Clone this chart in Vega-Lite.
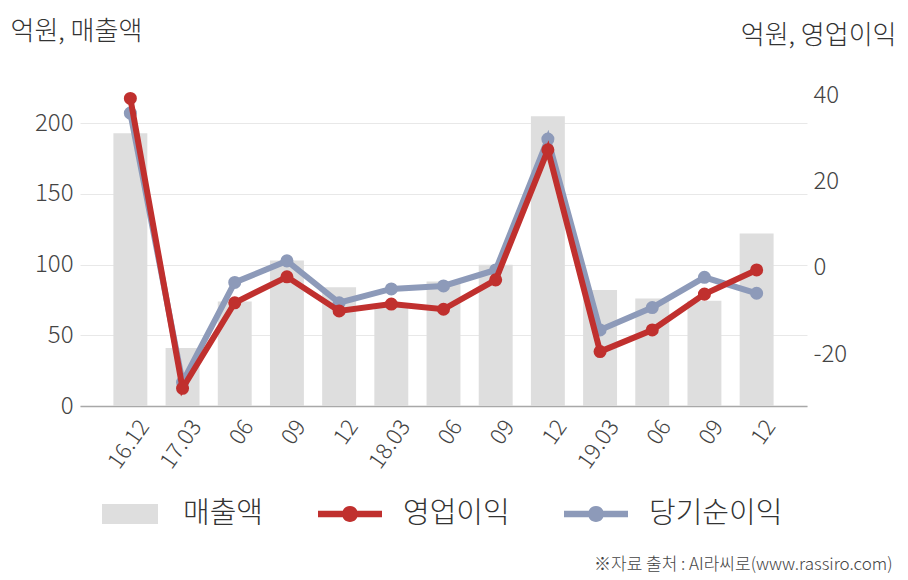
{
  "$schema": "https://vega.github.io/schema/vega-lite/v6.json",
  "width": 727,
  "height": 311,
  "autosize": {"type": "none"},
  "padding": {"left": 80, "top": 95, "right": 101, "bottom": 174},
  "background": "white",
  "config": {
    "font": "Noto Sans CJK KR",
    "view": {"stroke": null},
    "axis": {"labelFont": "Noto Sans CJK KR", "titleFont": "Noto Sans CJK KR", "labelFontWeight": 300, "titleFontWeight": 300},
    "legend": {"labelFont": "Noto Sans CJK KR", "labelFontWeight": 300}
  },
  "data": {
    "values": [
      {"q": "16.12", "sales": 193, "op": 39.2, "net": 35.8},
      {"q": "17.03", "sales": 41, "op": -27.9, "net": -26.5},
      {"q": "17.06", "sales": 74, "op": -8.1, "net": -3.4},
      {"q": "17.09", "sales": 103, "op": -2.1, "net": 1.6},
      {"q": "17.12", "sales": 84, "op": -10.0, "net": -8.1},
      {"q": "18.03", "sales": 70, "op": -8.4, "net": -4.9},
      {"q": "18.06", "sales": 88, "op": -9.6, "net": -4.2},
      {"q": "18.09", "sales": 100, "op": -2.8, "net": -0.5},
      {"q": "18.12", "sales": 205, "op": 27.3, "net": 29.8},
      {"q": "19.03", "sales": 82, "op": -19.4, "net": -14.4},
      {"q": "19.06", "sales": 76, "op": -14.4, "net": -9.2},
      {"q": "19.09", "sales": 74.5, "op": -6.1, "net": -2.2},
      {"q": "19.12", "sales": 122, "op": -0.5, "net": -5.9}
    ]
  },
  "encoding": {
    "x": {
      "field": "q",
      "type": "nominal",
      "sort": null,
      "scale": {"paddingInner": 0.35, "paddingOuter": 0.64},
      "axis": {
        "title": "※자료 출처 : AI라씨로(www.rassiro.com)",
        "titleX": 812,
        "titleY": 158,
        "titleAlign": "right",
        "titleBaseline": "middle",
        "titleFontSize": 17,
        "titleFontWeight": 300,
        "titleColor": "#444444",
        "labelExpr": "indexof(['16.12','17.03','18.03','19.03'], datum.value) >= 0 ? datum.value : substring(datum.value, 3)",
        "labelAngle": -55,
        "labelAlign": "right",
        "labelBaseline": "middle",
        "labelPadding": 16,
        "labelOffset": 14,
        "labelFontSize": 22.5,
        "labelColor": "#444444",
        "ticks": false,
        "tickSize": 0,
        "domainColor": "#A8A8A8",
        "domainWidth": 1.5,
        "grid": false
      }
    }
  },
  "layer": [
    {
      "mark": {"type": "bar", "color": "#DEDEDE"},
      "encoding": {
        "y": {
          "field": "sales",
          "type": "quantitative",
          "scale": {"domain": [0, 220], "nice": false, "zero": true},
          "axis": {
            "values": [0, 50, 100, 150, 200],
            "title": "억원, 매출액",
            "titleAngle": 0,
            "titleAlign": "left",
            "titleBaseline": "middle",
            "titleX": -70,
            "titleY": -64,
            "titleFontSize": 26,
            "titleColor": "#333333",
            "labelFontSize": 24,
            "labelColor": "#444444",
            "labelPadding": 7,
            "ticks": false,
            "domain": false,
            "grid": true,
            "gridColor": "#E8E8E8",
            "gridWidth": 1
          }
        },
        "fill": {
          "datum": "매출액",
          "type": "nominal",
          "scale": {"domain": ["매출액", "영업이익", "당기순이익"], "range": ["#DEDEDE", "#C0302E", "#8D9AB9"]},
          "legend": {
            "orient": "none",
            "legendX": 18,
            "legendY": 387,
            "direction": "horizontal",
            "title": null,
            "padding": 0,
            "symbolSize": 4096,
            "symbolStrokeWidth": 0,
            "symbolOpacity": 1,
            "labelFontSize": 29,
            "labelColor": "#333333",
            "labelOffset": 21,
            "columnPadding": 54,
            "encode": {
              "symbols": {
                "update": {
                  "shape": {"signal": "datum.value === '매출액' ? 'M-0.875,-0.3125H0.875V0.3125H-0.875Z' : 'M-1,-0.1H1V0.1H-1Z M-0.25,0A0.25,0.25 0 1,1 0.25,0A0.25,0.25 0 1,1 -0.25,0Z'"}
                }
              }
            }
          }
        }
      }
    },
    {
      "layer": [
        {
          "mark": {"type": "line", "color": "#8D9AB9", "strokeWidth": 6, "point": {"filled": true, "size": 170, "color": "#8D9AB9", "opacity": 1}},
          "encoding": {
            "y": {
              "field": "net",
              "type": "quantitative",
              "scale": {"domain": [-32, 40], "nice": false, "zero": false},
              "axis": {
                "orient": "right",
                "values": [-20, 0, 20, 40],
                "labelExpr": "replace(datum.label, '\u2212', '-')",
                "title": "억원, 영업이익",
                "titleAngle": 0,
                "titleAlign": "right",
                "titleBaseline": "middle",
                "titleX": 89,
                "titleY": -60,
                "titleFontSize": 26,
                "titleColor": "#333333",
                "labelFontSize": 24,
                "labelColor": "#444444",
                "labelPadding": 6,
                "labelAlign": "left",
                "ticks": false,
                "domain": false,
                "grid": false
              }
            }
          }
        },
        {
          "mark": {"type": "line", "color": "#C0302E", "strokeWidth": 6, "point": {"filled": true, "size": 170, "color": "#C0302E", "opacity": 1}},
          "encoding": {
            "y": {"field": "op", "type": "quantitative"}
          }
        }
      ]
    }
  ],
  "resolve": {"scale": {"y": "independent"}}
}
